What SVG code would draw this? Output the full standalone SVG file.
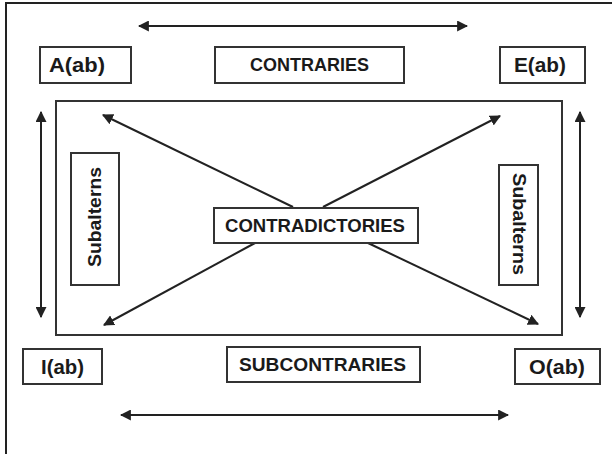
<svg xmlns="http://www.w3.org/2000/svg" width="612" height="454" viewBox="0 0 612 454">
<style>
.box{fill:#fff;stroke:#333;stroke-width:2}
.lbl{font-family:"Liberation Sans",Arial,sans-serif;font-weight:bold;font-size:18px;fill:#1a1a1a;text-anchor:middle;dominant-baseline:central}
.big{font-size:20px}
.ln{stroke:#222;stroke-width:2;fill:none}
</style>
<defs>
<marker id="ah" viewBox="0 0 10 10" refX="9" refY="5" markerWidth="5.5" markerHeight="5.5" orient="auto-start-reverse" markerUnits="strokeWidth">
<path d="M0,0 L10,5 L0,10 Z" fill="#222"/>
</marker>
</defs>
<rect width="612" height="454" fill="#fff"/>
<g id="frame">
<path d="M6,454 L6,3 L612,3" class="ln" stroke-width="2"/>
</g>
<g id="inner">
<rect x="56" y="101" width="506" height="234" class="box"/>
</g>
<g id="connectors">
<line x1="139" y1="26" x2="467" y2="26" class="ln" marker-start="url(#ah)" marker-end="url(#ah)"/>
<line x1="121" y1="415" x2="508" y2="415" class="ln" marker-start="url(#ah)" marker-end="url(#ah)"/>
<line x1="41" y1="112" x2="41" y2="317" class="ln" marker-start="url(#ah)" marker-end="url(#ah)"/>
<line x1="580" y1="112" x2="580" y2="317" class="ln" marker-start="url(#ah)" marker-end="url(#ah)"/>
<line x1="293" y1="207" x2="103" y2="115" class="ln" marker-end="url(#ah)"/>
<line x1="323" y1="207" x2="500" y2="116" class="ln" marker-end="url(#ah)"/>
<line x1="255" y1="243" x2="104" y2="325" class="ln" marker-end="url(#ah)"/>
<line x1="368" y1="243" x2="538" y2="324" class="ln" marker-end="url(#ah)"/>
</g>
<g id="A">
<rect x="40" y="47" width="91" height="36" class="box"/>
<text x="77" y="65" class="lbl big" textLength="56" lengthAdjust="spacingAndGlyphs">A(ab)</text>
</g>
<g id="contraries">
<rect x="215" y="47" width="189" height="36" class="box"/>
<text x="309.5" y="65" class="lbl" textLength="119" lengthAdjust="spacingAndGlyphs">CONTRARIES</text>
</g>
<g id="E">
<rect x="500" y="47" width="85" height="36" class="box"/>
<text x="540" y="65" class="lbl big" textLength="52" lengthAdjust="spacingAndGlyphs">E(ab)</text>
</g>
<g id="I">
<rect x="23" y="349" width="79" height="35" class="box"/>
<text x="62.5" y="366.5" class="lbl big" textLength="43" lengthAdjust="spacingAndGlyphs">I(ab)</text>
</g>
<g id="subcontraries">
<rect x="227" y="347" width="193" height="35" class="box"/>
<text x="322.5" y="364.5" class="lbl" textLength="167" lengthAdjust="spacingAndGlyphs">SUBCONTRARIES</text>
</g>
<g id="O">
<rect x="515" y="349" width="85" height="35" class="box"/>
<text x="557" y="366.5" class="lbl big" textLength="56" lengthAdjust="spacingAndGlyphs">O(ab)</text>
</g>
<g id="contradictories">
<rect x="214" y="208" width="204" height="35" class="box"/>
<text x="315" y="225.5" class="lbl" textLength="180" lengthAdjust="spacingAndGlyphs">CONTRADICTORIES</text>
</g>
<g id="subalterns-left">
<rect x="71" y="153" width="48" height="132" class="box"/>
<text x="95" y="217" class="lbl" transform="rotate(-90 95 217)" textLength="100" lengthAdjust="spacingAndGlyphs">Subalterns</text>
</g>
<g id="subalterns-right">
<rect x="499" y="165" width="39" height="120" class="box"/>
<text x="518.5" y="224" class="lbl" transform="rotate(90 518.5 224)" textLength="102" lengthAdjust="spacingAndGlyphs">Subalterns</text>
</g>
</svg>
